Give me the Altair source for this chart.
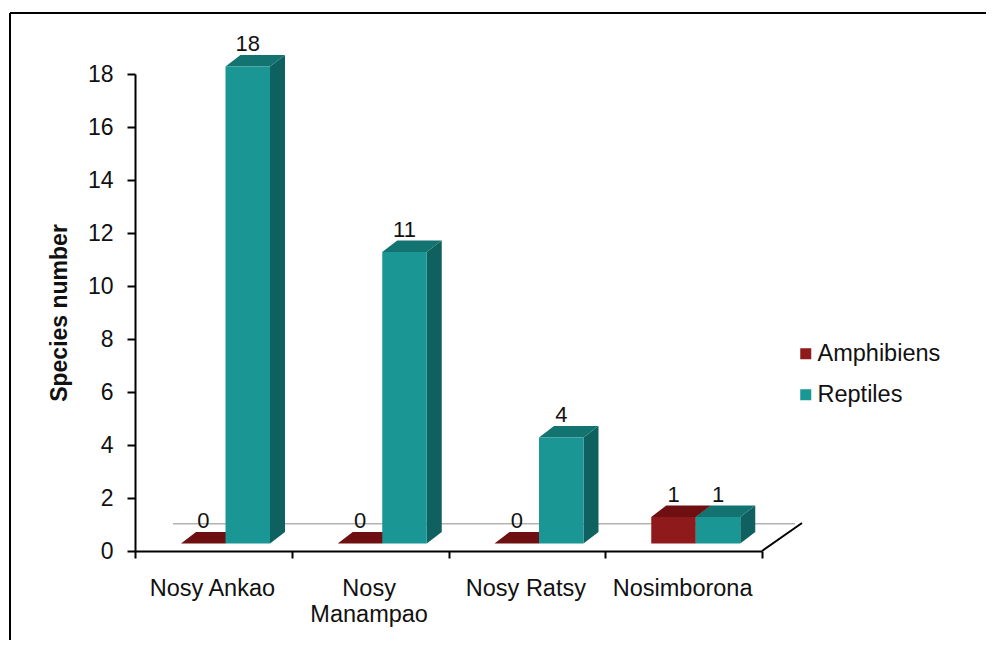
import altair as alt
import pandas as pd

# ---- values ----
categories = ["Nosy Ankao", "Nosy\nManampao", "Nosy Ratsy", "Nosimborona"]
amphibiens = [0, 0, 0, 1]
reptiles = [18, 11, 4, 1]
y_ticks = list(range(0, 20, 2))
x_ticks = [0, 1, 2, 3, 4]

# ---- pseudo-3D geometry (category units / value units) ----
PX_X, PX_Y = 627 / 4, 477 / 18
BAR_W = 44.5 / PX_X
AMPH_L = 46 / PX_X
DX, DY = 15 / PX_X, 11.5 / PX_Y
BASE = 7.5 / PX_Y
FONT = "Liberation Sans"

front, side, top, labels = [], [], [], []
for i, cat in enumerate(categories):
    for s, vals, left in (("Amphibiens", amphibiens, AMPH_L), ("Reptiles", reptiles, AMPH_L + BAR_W)):
        v = vals[i]
        l, r = i + left, i + left + BAR_W
        t = BASE + v
        k = f"{s}{i}"
        front.append(dict(s=s, l=l, r=r, b=BASE, t=t))
        side.append(dict(k=k, s=s, x=r, lo=BASE, hi=t))
        side.append(dict(k=k, s=s, x=r + DX, lo=BASE + DY, hi=t + DY))
        top.append(dict(k=k, s=s, y=t, l=l, r=r))
        top.append(dict(k=k, s=s, y=t + DY, l=l + DX, r=r + DX))
        labels.append(dict(x=(l + r) / 2, y=t + DY, v=str(v)))

front, side, top, labels = map(pd.DataFrame, (front, side, top, labels))
FLOOR_DX, FLOOR_DY = 40 / PX_X, 28 / PX_Y
back_line = pd.DataFrame({"x": [38 / PX_X, 4 + 33 / PX_X], "y": [FLOOR_DY * 0.97] * 2})
edge_line = pd.DataFrame({"x": [4, 4 + FLOOR_DX], "y": [0, FLOOR_DY]})
cat_labels = pd.DataFrame({"x": [i + 0.5 for i in range(4)], "t": [c.split("\n") for c in categories]})

x_scale = alt.Scale(domain=[0, 4], nice=False, zero=False)
y_scale = alt.Scale(domain=[0, 18], nice=False, zero=False)
x_axis = alt.Axis(values=x_ticks, labels=False, grid=False, domainColor="black", domainWidth=2,
                  tickColor="black", tickWidth=2, tickSize=7, title=None)
y_axis = alt.Axis(values=y_ticks, grid=False, domainColor="black", domainWidth=2,
                  tickColor="black", tickWidth=2, tickSize=8, labelFont=FONT, labelFontSize=23,
                  labelColor="#111", labelPadding=14, title="Species number", titleFont=FONT,
                  titleFontSize=23, titleFontWeight="bold", titleColor="#111", titlePadding=16)


def X(field):
    return alt.X(field, scale=x_scale, axis=x_axis, stack=None)


def Y(field):
    return alt.Y(field, scale=y_scale, axis=y_axis, stack=None)


frame_top = alt.Chart(pd.DataFrame({"a": [0]})).mark_rule(color="black", strokeWidth=2).encode(
    y=alt.value(-61), x=alt.value(-125), x2=alt.value(860))
frame_left = alt.Chart(pd.DataFrame({"a": [0]})).mark_rule(color="black", strokeWidth=2).encode(
    x=alt.value(-125), y=alt.value(-61), y2=alt.value(570))

back = alt.Chart(back_line).mark_line(color="#8c8c8c", strokeWidth=1).encode(x=X("x:Q"), y=Y("y:Q"))
edge = alt.Chart(edge_line).mark_line(color="black", strokeWidth=2).encode(x=X("x:Q"), y=Y("y:Q"))


def faces(series, top_color, side_color):
    sd = alt.Chart(side[side.s == series]).mark_area(color=side_color, orient="vertical").encode(
        x=X("x:Q"), y=Y("lo:Q"), y2="hi:Q", detail="k:N")
    tp = alt.Chart(top[top.s == series]).mark_area(color=top_color, orient="horizontal").encode(
        y=Y("y:Q"), x=X("l:Q"), x2="r:Q", detail="k:N")
    return sd, tp


def front_face(series):
    return alt.Chart(front[front.s == series]).mark_rect().encode(
        x=X("l:Q"), x2="r:Q", y=Y("b:Q"), y2="t:Q",
        color=alt.Color("s:N", scale=alt.Scale(domain=["Amphibiens", "Reptiles"], range=["#8f1a1c", "#1a9694"]),
                        legend=alt.Legend(title=None, orient="none", legendX=659, legendY=268,
                                          symbolType="square", symbolSize=121, symbolStrokeWidth=0,
                                          labelFont=FONT, labelFontSize=23.5, labelColor="#111",
                                          rowPadding=16, labelOffset=0, values=["Amphibiens", "Reptiles"])),
    )


a_side, a_top = faces("Amphibiens", "#6e1011", "#6e1011")
r_side, r_top = faces("Reptiles", "#127370", "#0e615e")

value_labels = alt.Chart(labels).mark_text(font=FONT, fontSize=22, color="#111", baseline="alphabetic", dy=-4).encode(
    x=X("x:Q"), y=Y("y:Q"), text="v:N")

cat_text = alt.Chart(cat_labels).mark_text(font=FONT, fontSize=23.5, color="#111", baseline="alphabetic", lineHeight=26, dx=-1).encode(
    x=X("x:Q"), y=alt.value(522), text="t")

chart = alt.layer(
    frame_top, frame_left, back, edge,
    a_top, a_side, front_face("Amphibiens"),
    r_side, r_top, front_face("Reptiles"),
    value_labels, cat_text,
).properties(
    width=627, height=477, background="white",
    autosize=alt.AutoSizeParams(type="none"),
    padding={"left": 127, "top": 66, "right": 224, "bottom": 89},
).configure_view(stroke=None)

chart.save("out.html", embed_options={"renderer": "svg", "actions": False})
